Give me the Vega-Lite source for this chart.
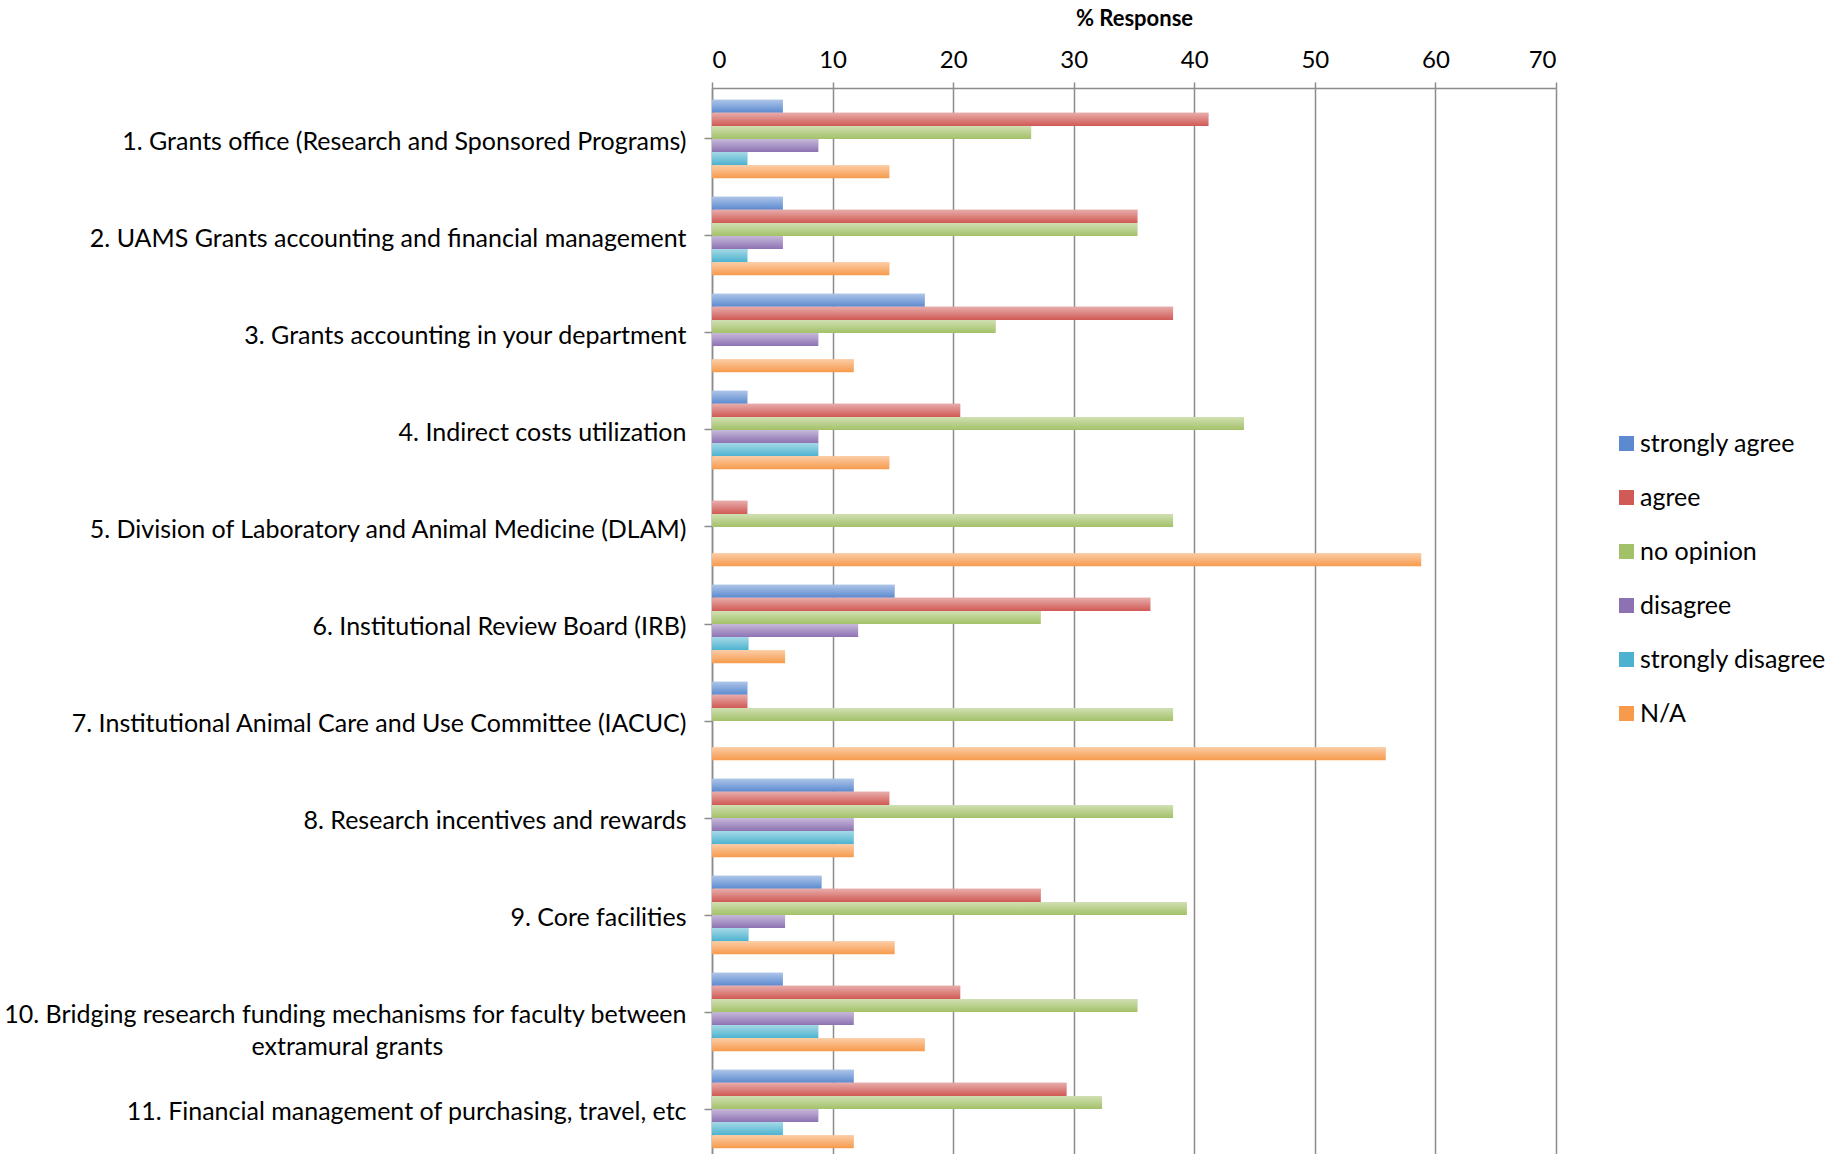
{
  "$schema": "https://vega.github.io/schema/vega-lite/v6.json",
  "width": 844,
  "height": 1072,
  "autosize": {"type": "none"},
  "padding": {"left": 712, "top": 88, "right": 283, "bottom": 0},
  "background": "white",
  "config": {"font": "Lato", "view": {"stroke": null}},
  "data": {"values": [
    {"q": "1. Grants office (Research and Sponsored Programs)", "r": "strongly agree", "v": 5.88},
    {"q": "1. Grants office (Research and Sponsored Programs)", "r": "agree", "v": 41.18},
    {"q": "1. Grants office (Research and Sponsored Programs)", "r": "no opinion", "v": 26.47},
    {"q": "1. Grants office (Research and Sponsored Programs)", "r": "disagree", "v": 8.82},
    {"q": "1. Grants office (Research and Sponsored Programs)", "r": "strongly disagree", "v": 2.94},
    {"q": "1. Grants office (Research and Sponsored Programs)", "r": "N/A", "v": 14.71},
    {"q": "2. UAMS Grants accounting and financial management", "r": "strongly agree", "v": 5.88},
    {"q": "2. UAMS Grants accounting and financial management", "r": "agree", "v": 35.29},
    {"q": "2. UAMS Grants accounting and financial management", "r": "no opinion", "v": 35.29},
    {"q": "2. UAMS Grants accounting and financial management", "r": "disagree", "v": 5.88},
    {"q": "2. UAMS Grants accounting and financial management", "r": "strongly disagree", "v": 2.94},
    {"q": "2. UAMS Grants accounting and financial management", "r": "N/A", "v": 14.71},
    {"q": "3. Grants accounting in your department", "r": "strongly agree", "v": 17.65},
    {"q": "3. Grants accounting in your department", "r": "agree", "v": 38.24},
    {"q": "3. Grants accounting in your department", "r": "no opinion", "v": 23.53},
    {"q": "3. Grants accounting in your department", "r": "disagree", "v": 8.82},
    {"q": "3. Grants accounting in your department", "r": "strongly disagree", "v": 0},
    {"q": "3. Grants accounting in your department", "r": "N/A", "v": 11.76},
    {"q": "4. Indirect costs utilization", "r": "strongly agree", "v": 2.94},
    {"q": "4. Indirect costs utilization", "r": "agree", "v": 20.59},
    {"q": "4. Indirect costs utilization", "r": "no opinion", "v": 44.12},
    {"q": "4. Indirect costs utilization", "r": "disagree", "v": 8.82},
    {"q": "4. Indirect costs utilization", "r": "strongly disagree", "v": 8.82},
    {"q": "4. Indirect costs utilization", "r": "N/A", "v": 14.71},
    {"q": "5. Division of Laboratory and Animal Medicine (DLAM)", "r": "strongly agree", "v": 0},
    {"q": "5. Division of Laboratory and Animal Medicine (DLAM)", "r": "agree", "v": 2.94},
    {"q": "5. Division of Laboratory and Animal Medicine (DLAM)", "r": "no opinion", "v": 38.24},
    {"q": "5. Division of Laboratory and Animal Medicine (DLAM)", "r": "disagree", "v": 0},
    {"q": "5. Division of Laboratory and Animal Medicine (DLAM)", "r": "strongly disagree", "v": 0},
    {"q": "5. Division of Laboratory and Animal Medicine (DLAM)", "r": "N/A", "v": 58.82},
    {"q": "6. Institutional Review Board (IRB)", "r": "strongly agree", "v": 15.15},
    {"q": "6. Institutional Review Board (IRB)", "r": "agree", "v": 36.36},
    {"q": "6. Institutional Review Board (IRB)", "r": "no opinion", "v": 27.27},
    {"q": "6. Institutional Review Board (IRB)", "r": "disagree", "v": 12.12},
    {"q": "6. Institutional Review Board (IRB)", "r": "strongly disagree", "v": 3.03},
    {"q": "6. Institutional Review Board (IRB)", "r": "N/A", "v": 6.06},
    {"q": "7. Institutional Animal Care and Use Committee (IACUC)", "r": "strongly agree", "v": 2.94},
    {"q": "7. Institutional Animal Care and Use Committee (IACUC)", "r": "agree", "v": 2.94},
    {"q": "7. Institutional Animal Care and Use Committee (IACUC)", "r": "no opinion", "v": 38.24},
    {"q": "7. Institutional Animal Care and Use Committee (IACUC)", "r": "disagree", "v": 0},
    {"q": "7. Institutional Animal Care and Use Committee (IACUC)", "r": "strongly disagree", "v": 0},
    {"q": "7. Institutional Animal Care and Use Committee (IACUC)", "r": "N/A", "v": 55.88},
    {"q": "8. Research incentives and rewards", "r": "strongly agree", "v": 11.76},
    {"q": "8. Research incentives and rewards", "r": "agree", "v": 14.71},
    {"q": "8. Research incentives and rewards", "r": "no opinion", "v": 38.24},
    {"q": "8. Research incentives and rewards", "r": "disagree", "v": 11.76},
    {"q": "8. Research incentives and rewards", "r": "strongly disagree", "v": 11.76},
    {"q": "8. Research incentives and rewards", "r": "N/A", "v": 11.76},
    {"q": "9. Core facilities", "r": "strongly agree", "v": 9.09},
    {"q": "9. Core facilities", "r": "agree", "v": 27.27},
    {"q": "9. Core facilities", "r": "no opinion", "v": 39.39},
    {"q": "9. Core facilities", "r": "disagree", "v": 6.06},
    {"q": "9. Core facilities", "r": "strongly disagree", "v": 3.03},
    {"q": "9. Core facilities", "r": "N/A", "v": 15.15},
    {"q": "10. Bridging research funding mechanisms for faculty between extramural grants", "r": "strongly agree", "v": 5.88},
    {"q": "10. Bridging research funding mechanisms for faculty between extramural grants", "r": "agree", "v": 20.59},
    {"q": "10. Bridging research funding mechanisms for faculty between extramural grants", "r": "no opinion", "v": 35.29},
    {"q": "10. Bridging research funding mechanisms for faculty between extramural grants", "r": "disagree", "v": 11.76},
    {"q": "10. Bridging research funding mechanisms for faculty between extramural grants", "r": "strongly disagree", "v": 8.82},
    {"q": "10. Bridging research funding mechanisms for faculty between extramural grants", "r": "N/A", "v": 17.65},
    {"q": "11. Financial management of purchasing, travel, etc", "r": "strongly agree", "v": 11.76},
    {"q": "11. Financial management of purchasing, travel, etc", "r": "agree", "v": 29.41},
    {"q": "11. Financial management of purchasing, travel, etc", "r": "no opinion", "v": 32.35},
    {"q": "11. Financial management of purchasing, travel, etc", "r": "disagree", "v": 8.82},
    {"q": "11. Financial management of purchasing, travel, etc", "r": "strongly disagree", "v": 5.88},
    {"q": "11. Financial management of purchasing, travel, etc", "r": "N/A", "v": 11.76}
  ]},
  "encoding": {
    "y": {
      "field": "q", "type": "nominal", "sort": null,
      "scale": {"paddingInner": 0.19, "paddingOuter": 0.1206},
      "axis": {
        "title": null,
        "labelFont": "Lato",
        "labelFontSize": 25,
        "labelColor": "#000000",
        "labelLimit": 800,
        "labelPadding": 18,
        "labelOffset": 3,
        "labelLineHeight": 32,
        "labelExpr": "indexof(datum.value, '10.') == 0 ? ['10. Bridging research funding mechanisms for faculty between', 'extramural grants\u00a0\u00a0\u00a0\u00a0\u00a0\u00a0\u00a0\u00a0\u00a0\u00a0\u00a0\u00a0\u00a0\u00a0\u00a0\u00a0\u00a0\u00a0\u00a0\u00a0\u00a0\u00a0\u00a0\u00a0\u00a0\u00a0\u00a0\u00a0\u00a0\u00a0\u00a0\u00a0\u00a0\u00a0\u00a0\u00a0\u00a0\u00a0\u200b'] : datum.value",
        "tickSize": 8,
        "tickColor": "#8c8c8c",
        "tickWidth": 1.5,
        "domainColor": "#8c8c8c",
        "domainWidth": 1.5,
        "grid": false
      }
    },
    "yOffset": {
      "field": "r", "type": "nominal",
      "sort": ["strongly agree", "agree", "no opinion", "disagree", "strongly disagree", "N/A"]
    },
    "x": {
      "field": "v", "type": "quantitative",
      "scale": {"domain": [0, 70]},
      "axis": {
        "orient": "top",
        "title": "% Response",
        "titleFont": "Lato",
        "titleFontSize": 22,
        "titleFontWeight": "bold",
        "titleColor": "#000000",
        "titlePadding": 18,
        "values": [0, 10, 20, 30, 40, 50, 60, 70],
        "labelFont": "Lato",
        "labelFontSize": 24,
        "labelColor": "#000000",
        "labelPadding": 10,
        "tickSize": 6,
        "tickColor": "#8c8c8c",
        "tickWidth": 1.5,
        "domainColor": "#8c8c8c",
        "domainWidth": 1.5,
        "grid": true,
        "gridColor": "#8c8c8c",
        "gridWidth": 1.5
      }
    }
  },
  "layer": [
    {
      "mark": {"type": "bar"},
      "encoding": {
        "color": {
          "field": "r", "type": "nominal",
          "scale": {
            "domain": ["strongly agree", "agree", "no opinion", "disagree", "strongly disagree", "N/A"],
            "range": ["#5b8ad0", "#d05a55", "#a3c168", "#8d72b3", "#4cb2cf", "#f79a4c"]
          },
          "legend": {
            "title": null,
            "orient": "none",
            "legendX": 902,
            "legendY": 343,
            "symbolType": "square",
            "symbolSize": 225,
            "labelFont": "Lato",
            "labelFontSize": 25,
            "labelColor": "#000000",
            "labelOffset": 1,
            "rowPadding": 28,
            "labelLimit": 400
          }
        }
      }
    },
    {
      "mark": {
        "type": "bar",
        "color": {
          "gradient": "linear",
          "x1": 0, "y1": 0, "x2": 0, "y2": 1,
          "stops": [
            {"offset": 0, "color": "rgba(255,255,255,0.5)"},
            {"offset": 1, "color": "rgba(255,255,255,0)"}
          ]
        }
      },
      "encoding": {}
    }
  ]
}
